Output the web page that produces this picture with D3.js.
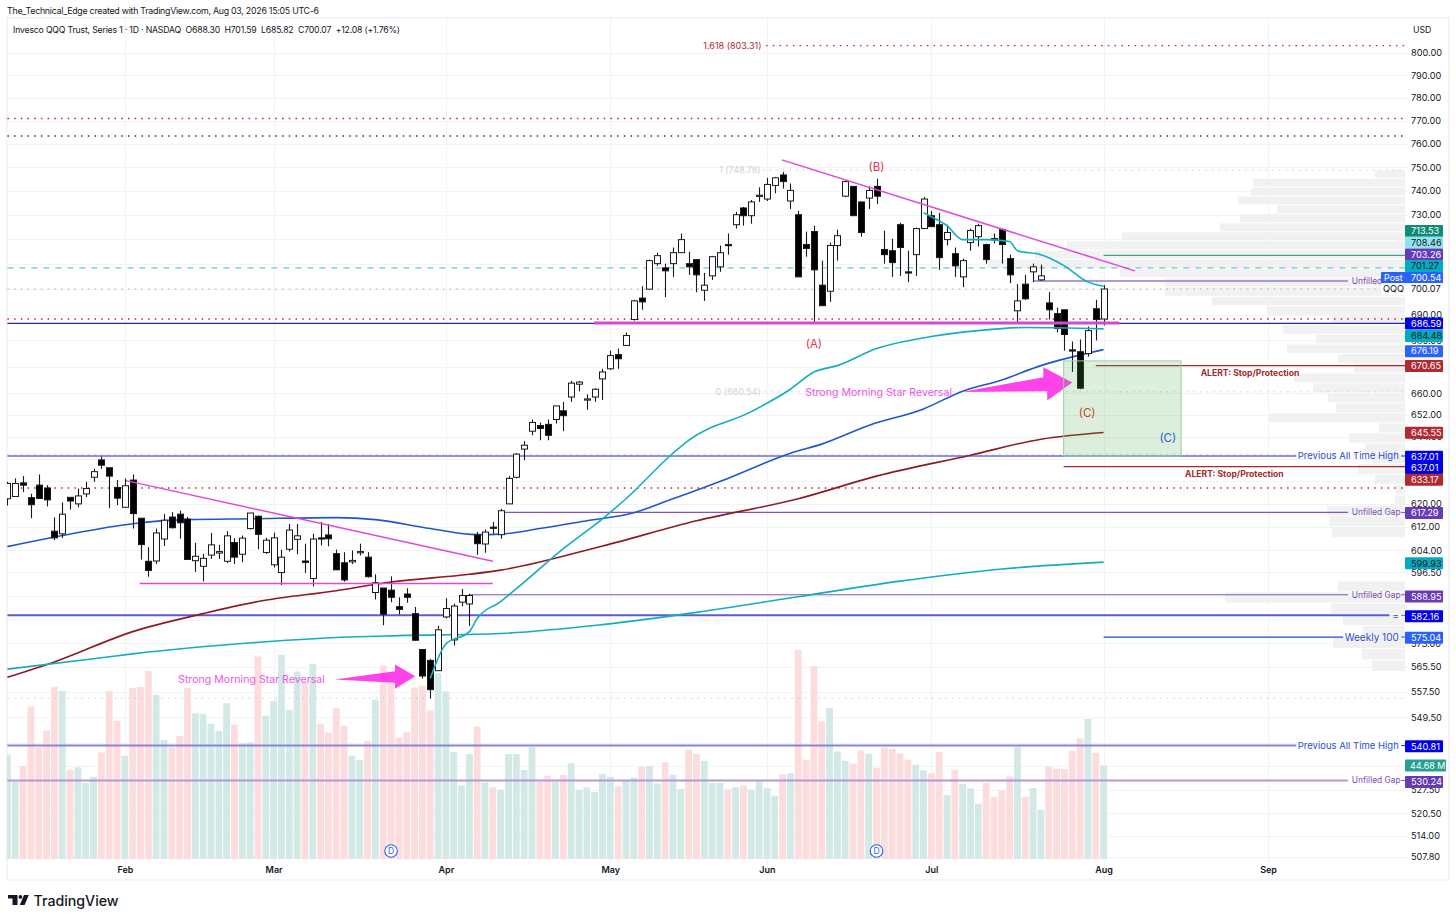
<!DOCTYPE html>
<html>
<head>
<meta charset="utf-8">
<script src="https://cdn.jsdelivr.net/npm/d3@7"></script>
<style>
    html, body { margin: 0; padding: 0; background: #fff; }
    svg { display: block; font-family: Inter, "Liberation Sans", sans-serif; }
    svg text { fill: #131722; }
</style>
</head>
<body>
<svg id="chart" width="1456" height="921"></svg>
<script>
// daily candles
const candleOpen = [
    621.8,622.6,627.4,622.2,626.6,625.6,610.5,609.6,622.3,620.0,
    623.5,629.4,635.6,632.8,625.8,618.8,628.4,615.0,600.2,600.3,
    607.8,615.4,616.4,614.7,600.4,598.5,602.3,603.0,600.2,606.6,
    602.6,611.4,615.7,603.2,599.0,596.4,604.3,607.7,600.3,594.4,
    608.2,609.2,602.8,599.7,600.0,603.3,601.6,589.7,591.2,590.5,
    585.0,589.2,582.7,571.0,567.5,564.2,581.6,574.1,586.5,585.9,
    609.2,606.1,611.9,609.3,620.0,629.4,639.5,646.0,648.1,648.5,
    650.3,653.5,658.6,663.4,657.8,658.6,665.4,669.2,674.6,678.1,
    688.1,696.5,700.0,710.2,708.5,710.2,714.6,710.2,711.8,699.6,
    705.3,708.9,717.9,726.0,732.9,729.7,737.8,736.6,742.3,746.7,
    735.8,730.1,717.9,723.2,701.6,699.2,717.5,737.8,741.9,735.4,
    737.0,741.9,715.9,715.4,726.0,706.9,713.8,724.4,729.7,726.0,
    719.9,714.2,704.9,718.7,721.1,717.9,720.3,724.0,712.2,691.5,
    702.0,706.9,703.7,694.6,690.4,691.9,676.4,675.7,675.0,692.3,688.30];
const candleHigh = [
    627.8,629.0,629.8,623.6,630.4,626.6,615.3,620.5,622.3,625.4,
    627.8,632.4,636.8,632.8,628.4,629.0,630.4,615.0,605.0,611.4,
    616.5,617.1,617.7,615.4,606.5,602.7,609.9,605.8,610.5,608.1,
    609.0,616.8,615.9,608.2,610.0,604.1,613.0,613.0,606.2,609.6,
    613.7,613.0,604.2,603.3,603.9,606.2,603.3,595.8,591.2,595.1,
    588.1,591.1,584.9,571.0,568.0,578.7,587.8,586.0,590.9,589.3,
    610.2,611.1,613.7,618.3,629.8,638.0,642.4,650.3,649.2,650.3,
    655.3,656.8,664.6,664.6,659.6,661.9,669.2,676.1,676.9,683.1,
    695.8,701.2,711.8,714.6,710.2,716.7,722.4,715.0,711.8,706.5,
    713.0,717.5,722.4,731.3,733.3,736.2,741.5,745.5,745.9,748.0,
    743.1,731.7,723.2,725.6,711.4,718.7,724.0,744.3,741.9,735.4,
    741.9,745.1,723.6,720.3,726.8,715.4,724.8,737.4,731.7,730.9,
    726.0,716.7,712.2,724.4,726.4,718.3,722.4,724.4,713.8,702.0,
    705.7,710.2,709.8,698.8,692.7,691.9,679.6,680.4,685.4,695.8,701.59];
const candleLow = [
    619.4,622.4,624.2,615.0,621.8,619.1,607.4,608.2,618.0,618.8,
    622.4,627.8,632.4,618.5,619.6,618.8,611.4,600.8,595.0,599.3,
    605.4,611.4,607.9,600.8,596.6,593.4,601.0,601.0,599.6,599.3,
    599.9,611.1,604.3,602.7,598.1,592.2,603.5,602.6,596.3,591.7,
    605.6,605.3,597.3,593.3,599.3,602.2,594.7,587.4,578.9,586.5,
    582.4,586.3,573.8,561.7,555.4,564.2,581.1,572.3,585.1,578.7,
    602.4,603.1,609.6,607.9,620.0,629.0,635.5,644.5,642.7,642.7,
    648.8,646.0,656.8,660.7,653.9,656.8,657.5,668.8,669.2,678.1,
    687.7,691.9,700.0,709.3,696.9,704.9,714.6,705.7,698.8,695.4,
    703.7,706.9,713.8,724.4,725.6,726.4,735.4,735.8,739.0,741.0,
    732.5,704.9,713.0,687.3,693.5,695.0,711.4,737.4,729.7,721.1,
    732.5,734.6,710.2,704.9,705.3,702.8,705.3,724.4,725.2,707.7,
    717.5,704.9,700.8,715.4,717.1,710.2,718.3,710.2,702.4,686.9,
    695.8,702.8,703.3,688.1,683.1,676.1,668.0,661.5,673.8,680.0,685.82];
const candleClose = [
    627.2,627.2,626.6,619.7,621.9,621.4,608.2,616.4,621.0,622.8,
    625.4,631.4,633.7,629.8,622.0,626.4,616.6,605.9,597.1,609.9,
    614.3,611.7,613.4,600.8,601.9,601.2,605.8,603.5,608.9,601.6,
    608.1,616.8,609.4,607.4,608.2,601.6,610.9,608.9,599.8,607.8,
    608.0,607.9,597.3,593.9,600.5,603.5,595.0,593.0,582.5,588.1,
    584.1,588.1,574.0,562.5,558.2,577.4,584.4,585.2,588.7,588.7,
    606.2,610.2,611.6,617.6,629.0,637.7,640.9,649.2,647.0,644.5,
    655.3,651.7,663.8,664.2,657.9,661.5,668.0,674.2,673.0,681.9,
    695.4,695.0,711.4,713.4,707.3,714.6,719.9,708.9,705.7,701.6,
    713.0,714.6,717.5,730.1,729.7,735.4,738.2,742.7,745.5,743.9,
    740.2,704.9,716.3,707.7,693.5,717.5,721.5,743.9,729.7,722.8,
    740.2,737.8,713.8,710.6,716.7,706.7,724.4,736.6,725.2,712.6,
    722.8,709.3,711.4,723.6,725.6,711.8,719.9,717.9,705.7,695.4,
    696.2,708.9,705.3,691.9,684.6,682.3,676.0,661.9,683.8,688.1,700.07];

// volume in millions
const volumes = [
    49.8,37.0,44.5,72.8,53.4,61.2,82.2,80.3,42.6,43.7,
    36.3,39.3,50.9,80.3,66.0,49.3,81.6,82.2,89.8,78.4,
    56.9,53.4,58.8,81.7,69.6,69.3,64.6,61.2,74.4,64.1,
    55.3,55.8,96.7,68.4,75.5,97.5,71.2,89.5,84.0,93.2,
    64.4,60.4,72.0,63.6,49.3,47.4,56.4,76.0,92.4,88.7,
    58.0,60.6,81.9,82.8,70.9,88.7,80.0,51.2,35.1,50.1,
    63.3,36.6,34.2,33.1,50.1,50.1,42.5,53.4,37.0,39.8,
    37.0,40.2,45.8,33.1,34.2,32.0,40.7,39.3,34.7,37.4,
    38.8,44.0,44.5,36.1,46.1,40.2,33.5,52.2,50.1,46.9,
    36.3,36.3,33.2,34.3,35.1,33.1,37.0,33.9,30.2,40.5,
    41.0,99.9,47.4,92.2,65.7,72.0,51.4,46.9,45.5,51.8,
    50.2,43.6,53.3,52.6,50.4,47.4,45.0,42.3,41.0,51.2,
    30.4,42.6,35.8,33.7,26.4,36.4,29.6,32.8,39.4,53.4,
    29.7,33.9,23.5,44.2,43.1,42.9,51.7,57.6,66.9,50.7,44.68];

// moving averages sampled at a few bars
const ma50Bars = [0,7,16,23,31,42,47,54,60,63,68,74,80,85,92,100,104,110,117,122,127,132,140];
const ma50Vals = [605.2,609,613.1,614.5,614.8,615.2,614.5,611.4,609.3,609.5,611.4,614.1,616.9,621.8,629,638,641.3,648.1,654.2,660.8,665,670.4,676.5];
const ma100Bars = [0,6,16,25,32,42,49,59,63,76,88,101,111,123,132,140];
const ma100Vals = [562.1,567,576.8,582.7,586.7,590.3,593.2,595.8,597.2,605.4,614.1,621.8,629.8,637.3,643.1,645.55];
const ma200Bars = [0,11,16,33,42,50,63,76,88,101,114,127,140];
const ma200Vals = [564.7,568,569.6,573.5,574.9,575.5,576.2,579.1,583.1,588.3,593.5,597.6,599.93];
const ma20Bars = [54,56,59,60,63,66,71,76,79,85,87,95,100,103,106,111,118,124,130,140];
const ma20Vals = [561.7,572.8,576.8,581.1,586.7,593.2,604.5,614.8,621.8,638,642.7,653.2,661.5,668,670.4,676.9,681.5,683.8,685,684.48];
const ma10Bars = [117,118,120,122,125,128,129,132,135,138,140];
const ma10Vals = [730.9,729.3,725.6,719.9,719.9,719.1,715.4,713.8,709.3,702.8,701.2];

// axis ticks, the hidden ones sit fully behind a tag and only keep their grid line
const priceTicks = [800,790,780,770,760,750,740,730,720,710,700,690,680,670,660,652,644,636,628,620,612,604,596.5,588.5,580.5,573,565.5,557.5,549.5,541.5,534.5,527.5,520.5,514,507.8];
const hiddenTicks = [720,710,700,670,636,628,588.5,580.5,541.5,534.5];
const monthBars = [15,34,56,77,97,118,140,161];
const monthLabels = ["Feb","Mar","Apr","May","Jun","Jul","Aug","Sep"];

// visible range profile, top row first, one row every vpStep dollars
const vpTop = 748.8;
const vpStep = 3.7;
const vpRows = [30,152,154,167,128,165,185,283,338,370,418,285,240,240,193,138,73,122,89,118,67,51,111,92,77,69,136,26,56,40,32,47,30,9,10,78,76,73,0,0,0,0,67,180,74,62,42,72,43,33];

// price tags on the axis: text and the price they sit at once stacked
const tagTexts = ["713.53","708.46","703.26","701.27","700.54","686.59","684.48","676.19","670.65","645.55","637.01","637.01","633.17","617.29","599.93","588.95","582.16","575.04","540.81","530.24"];
const tagPrices = [723.4,718.7,713.9,709.2,704.4,686.6,681.7,675.9,670.3,645.4,636.7,632.7,628.5,616.8,599.5,588.4,581.8,574.8,540.6,529.8];
const tagKinds = ["teal","pale","purple","cyan","blue","navy","cyan","blue","red","red","navy","navy","red","purple","cyan","purple","navy","blue","navy","purple"];

// drawn levels
const extLevels = [803.31,748.78,660.54];
const extStarts = [96.9,96.5,96.7];
const redDotted = [770.9,688.3,625.6];
const greenDotted = [763.3];
const fibFull = [637.6,555.5];
const emaDashed = 708.46;
const tealLevel = 713.53;
const lastClose = 700.07;
const athLevels = [637.01,540.81];
const blueLevel = 686.59;
const equalLevel = 582.16;
const weeklyLevel = 575.04;
const gapLevels = [703.26,617.0,588.95,530.24];
const gapStarts = [131,63,59,0];
const alertLevels = [670.4,633.17];
const alertStarts = [139,134.9];
const alertTextBars = [152.4,150.4];
const alertTextPrices = [667.6,630.6];

// trend lines
const trendBars = [[15.15,62],[16.9,62],[98.9,144]];
const trendPrices = [[628.2,600.2],[592.7,592.7],[753.1,707.3]];
const neckBars = [74.9,142];
const neckPrice = 686.8;

// arrows
const arrow1Bars = [41.8,49.5,49.5,52.1,49.5,49.5];
const arrow1Prices = [561.4,564,566.2,562.4,558.5,560.4];
const arrow2Bars = [121.9,132.3,132.3,136,132.8,132.8];
const arrow2Prices = [660.5,666,669.8,664,657.3,660.8];

const boxBars = [134.9,149.9];
const boxPrices = [672.2,637];
const dividendBars = [49,111];
const lastVolume = 44.68;

const margin = {left: 7, right: 1408, top: 18, bottom: 880};
const volBase = 859;

const svg = d3.select("#chart");
const x = d3.scaleLinear().domain([0, 140]).range([7.4, 1103.6]);
const y = d3.scaleLog().domain([507.8, 800]).range([857, 53]);
const yVol = d3.scaleLinear().domain([0, 100]).range([volBase, volBase - 209.4]);

svg.append("defs").append("clipPath").attr("id", "pane")
    .append("rect").attr("x", margin.left).attr("y", margin.top)
    .attr("width", margin.right - margin.left).attr("height", margin.bottom - margin.top);

// frame and grid
const grid = svg.append("g").attr("stroke", "#f2f3f5");
grid.selectAll(".h").data(priceTicks).enter().append("line").attr("class", "h")
    .attr("x1", margin.left).attr("x2", margin.right)
    .attr("y1", d => Math.round(y(d)) + 0.5).attr("y2", d => Math.round(y(d)) + 0.5);
grid.selectAll(".v").data(monthBars).enter().append("line").attr("class", "v")
    .attr("y1", margin.top).attr("y2", margin.bottom)
    .attr("x1", d => Math.round(x(d)) + 0.5).attr("x2", d => Math.round(x(d)) + 0.5);
svg.append("rect").attr("x", margin.left).attr("y", margin.top)
    .attr("width", 1449 - margin.left).attr("height", margin.bottom - margin.top)
    .attr("fill", "none").attr("stroke", "#e8eaee");

const plot = svg.append("g").attr("clip-path", "url(#pane)");

// volume profile
const vpRight = 1405;
plot.append("g").selectAll("rect").data(vpRows).enter().append("rect")
    .attr("x", d => vpRight - d).attr("width", d => d)
    .attr("y", (d, i) => y(vpTop - i * vpStep))
    .attr("height", (d, i) => y(vpTop - (i + 1) * vpStep) - y(vpTop - i * vpStep) - 1)
    .attr("fill", "#efefef").attr("fill-opacity", 0.85);

// volume
const isUp = i => candleClose[i] >= candleOpen[i];
plot.append("g").selectAll("rect").data(volumes).enter().append("rect")
    .attr("x", (d, i) => x(i) - 3.4).attr("width", 6.8)
    .attr("y", d => yVol(d)).attr("height", d => volBase - yVol(d))
    .attr("fill", (d, i) => isUp(i) ? "#d2e9e6" : "#fcdcdc");

// horizontal helper, bars may run past the last candle
function hline(price, from, to, color, w, dash) {
    plot.append("line")
        .attr("x1", x(from)).attr("x2", x(to))
        .attr("y1", y(price)).attr("y2", y(price))
        .attr("stroke", color).attr("stroke-width", w)
        .attr("stroke-dasharray", dash || null);
}
const lastBar = 178.6, dots = "1.5 5.2";

extLevels.forEach((d, i) => hline(d, extStarts[i], lastBar, i === 0 ? "#b22833" : "#c9ccd1", i === 0 ? 1.3 : 1, dots));
redDotted.forEach(d => hline(d, 0, lastBar, "#b22833", 1.4, dots));
greenDotted.forEach(d => hline(d, 0, lastBar, "#24453c", 1.4, dots));
fibFull.forEach(d => hline(d, 0, lastBar, "#c9ccd1", 1, dots));
hline(tealLevel, 140, lastBar, "#1e8f7c", 1);
hline(emaDashed, 0, lastBar, "#62cfdc", 1.3, "6 6");
hline(lastClose, 0, lastBar, "#8fb0f0", 1, dots);
hline(blueLevel, 0, lastBar, "#2323d8", 1.2);
hline(equalLevel, 0, 176.5, "#5c5cd0", 2);
hline(equalLevel, 178, lastBar, "#5c5cd0", 1);

athLevels.forEach((d, i) => {
    hline(d, 0, 164.6, i === 0 ? "#2323d8" : "#8585dc", i === 0 ? 1.2 : 2);
    hline(d, 178, lastBar, "#2323d8", 1);
});
gapLevels.forEach((d, i) => {
    const thick = i === 0 || i === 3;
    hline(d, gapStarts[i], 171.2, thick ? "#b397dc" : "#8155c0", thick ? 2 : 1.2);
    hline(d, 178, lastBar, "#8155c0", 1);
});
hline(weeklyLevel, 140, 170.6, "#1a4fc4", 1.2);
hline(weeklyLevel, 178, lastBar, "#1a4fc4", 1);
alertLevels.forEach((d, i) => hline(d, alertStarts[i], lastBar, "#a32a2a", 1.2));

// moving averages
const maLine = d3.line().curve(d3.curveMonotoneX).x(d => x(d[0])).y(d => y(d[1]));
function drawMa(bars, vals, color, w) {
    plot.append("path").datum(bars.map((b, i) => [b, vals[i]]))
        .attr("fill", "none").attr("stroke", color).attr("stroke-width", w)
        .attr("d", maLine);
}
drawMa(ma100Bars, ma100Vals, "#8e1a24", 1.6);
drawMa(ma200Bars, ma200Vals, "#12aebf", 1.6);
drawMa(ma50Bars, ma50Vals, "#1f55d0", 1.6);

// candles
const candles = plot.append("g").selectAll("g").data(candleOpen).enter().append("g");
candles.append("line")
    .attr("x1", (d, i) => Math.round(x(i)) + 0.5).attr("x2", (d, i) => Math.round(x(i)) + 0.5)
    .attr("y1", (d, i) => y(candleHigh[i])).attr("y2", (d, i) => y(candleLow[i]))
    .attr("stroke", "#1a1a1a").attr("stroke-width", 1.1);
candles.append("rect")
    .attr("x", (d, i) => Math.round(x(i)) - 2.5).attr("width", 6)
    .attr("y", (d, i) => y(Math.max(candleOpen[i], candleClose[i])))
    .attr("height", (d, i) => Math.max(1.2, Math.abs(y(candleOpen[i]) - y(candleClose[i]))))
    .attr("fill", (d, i) => isUp(i) ? "#fff" : "#000")
    .attr("stroke", "#1a1a1a").attr("stroke-width", 1);

drawMa(ma20Bars, ma20Vals, "#12aebf", 1.6);
drawMa(ma10Bars, ma10Vals, "#12aebf", 1.6);

// trend lines
const magenta = "#e346dc";
trendBars.forEach((b, i) => {
    plot.append("line").attr("x1", x(b[0])).attr("x2", x(b[1]))
        .attr("y1", y(trendPrices[i][0])).attr("y2", y(trendPrices[i][1]))
        .attr("stroke", magenta).attr("stroke-width", 1.5);
});
plot.append("line").attr("x1", x(neckBars[0])).attr("x2", x(neckBars[1]))
    .attr("y1", y(neckPrice)).attr("y2", y(neckPrice))
    .attr("stroke", "#d946d2").attr("stroke-width", 3);

// arrows
[[arrow1Bars, arrow1Prices], [arrow2Bars, arrow2Prices]].forEach(a => {
    plot.append("polygon")
        .attr("points", a[0].map((b, i) => x(b) + "," + y(a[1][i])).join(" "))
        .attr("fill", "#ff43ea");
});

// long position box
plot.append("rect")
    .attr("x", x(boxBars[0])).attr("width", x(boxBars[1]) - x(boxBars[0]))
    .attr("y", y(boxPrices[0])).attr("height", y(boxPrices[1]) - y(boxPrices[0]))
    .attr("fill", "#4caf50").attr("fill-opacity", 0.2)
    .attr("stroke", "#9ed09f").attr("stroke-width", 1);

// annotations
function note(txt, bar, price, color, size, anchor, weight) {
    svg.append("text").attr("x", x(bar)).attr("y", y(price))
        .attr("dy", "0.35em").attr("text-anchor", anchor || "start")
        .attr("font-size", size).attr("font-weight", weight || 400)
        .style("fill", color).text(txt);
}
note("1.618 (803.31)", 96.3, 803.31, "#b22833", 9, "end");
note("1 (748.78)", 96.2, 748.78, "#cfd2d6", 9, "end");
note("0 (660.54)", 96.2, 660.54, "#cfd2d6", 9, "end");
note("(A)", 103, 678.6, "#e0354a", 11.5, "middle");
note("(B)", 111, 750, "#e0354a", 11.5, "middle");
note("(C)", 137.9, 652.7, "#c0492a", 11.5, "middle");
note("(C)", 148.2, 643.5, "#2a5bd7", 11.5, "middle");
note("Strong Morning Star Reversal", 21.8, 561.4, "#ee55e6", 10.6);
note("Strong Morning Star Reversal", 101.9, 660.2, "#ee55e6", 10.6);
alertTextBars.forEach((b, i) => note("ALERT: Stop/Protection", b, alertTextPrices[i], "#a32a2a", 8.6, "start", 700));
gapLevels.forEach((p, i) => note(i === 0 ? "Unfilled" : "Unfilled Gap", 171.7, p, "#7a52b8", 8.4));
athLevels.forEach(p => note("Previous All Time High", 177.7, p, "#2a4fd0", 9.5, "end"));
note("Weekly 100", 177.7, weeklyLevel, "#2a4fd0", 10, "end");
note("=", 177.7, equalLevel, "#2a4fd0", 10, "end");

// dividend markers
const marks = svg.append("g").selectAll("g").data(dividendBars).enter().append("g")
    .attr("transform", d => "translate(" + x(d) + ",851)");
marks.append("circle").attr("r", 6.3).attr("fill", "#fff").attr("stroke", "#2962ff").attr("stroke-width", 1.1);
marks.append("text").attr("text-anchor", "middle").attr("dy", "0.35em").attr("font-size", 8.5)
    .style("fill", "#2962ff").text("D");

// axes
const yAxis = svg.append("g").attr("transform", "translate(" + margin.right + ",0)")
    .call(d3.axisRight(y).tickValues(priceTicks.filter(d => !hiddenTicks.includes(d))).tickFormat(d3.format(".2f")).tickSize(0).tickPadding(3));
yAxis.select(".domain").remove();
yAxis.selectAll("text").attr("font-size", 9.2).attr("font-family", "Inter");

const xAxis = svg.append("g").attr("transform", "translate(0,866)")
    .call(d3.axisBottom(x).tickValues(monthBars).tickFormat((d, i) => monthLabels[i]).tickSize(0).tickPadding(1));
xAxis.select(".domain").remove();
xAxis.selectAll("text").attr("font-size", 9).attr("font-weight", 600).attr("font-family", "Inter");

// axis tags
const tagFill = {teal: "#0f8a74", pale: "#8ee3ef", purple: "#673ab7", cyan: "#00acc1", blue: "#2962ff", navy: "#0000e6", red: "#b22833"};
const tagInk = {pale: "#1a1a1a", cyan: "#1a1a1a"};
const tags = svg.append("g").selectAll("g").data(tagTexts).enter().append("g")
    .attr("transform", (d, i) => "translate(1405," + y(tagPrices[i]) + ")");
tags.append("rect").attr("y", -6).attr("width", 38).attr("height", 12).attr("rx", 1)
    .attr("fill", (d, i) => tagFill[tagKinds[i]]);
tags.append("text").attr("x", 6).attr("dy", "0.36em").attr("font-size", 9.2)
    .style("fill", (d, i) => tagInk[tagKinds[i]] || "#fff").text(d => d);

// volume tag, post label and last close
const volTag = svg.append("g").attr("transform", "translate(1405," + yVol(lastVolume) + ")");
volTag.append("rect").attr("y", -6).attr("width", 41).attr("height", 12).attr("rx", 1).attr("fill", "#26a08f");
volTag.append("text").attr("x", 5).attr("dy", "0.36em").attr("font-size", 9).style("fill", "#fff").text("44.68 M");

const postTag = svg.append("g").attr("transform", "translate(1381," + y(tagPrices[4]) + ")");
postTag.append("rect").attr("y", -6).attr("width", 25).attr("height", 12).attr("rx", 1).attr("fill", "#2962ff");
postTag.append("text").attr("x", 3).attr("dy", "0.36em").attr("font-size", 9).style("fill", "#fff").text("Post");

const lastTag = svg.append("g").attr("transform", "translate(1381," + y(lastClose) + ")");
lastTag.append("rect").attr("y", -6).attr("width", 62).attr("height", 12).attr("fill", "#fff");
lastTag.append("text").attr("x", 2).attr("dy", "0.36em").attr("font-size", 9.2).text("QQQ");
lastTag.append("text").attr("x", 30).attr("dy", "0.36em").attr("font-size", 9.2).text("700.07");

// header
svg.append("text").attr("x", 7).attr("y", 14).attr("font-size", 8.8).attr("letter-spacing", -0.25)
    .text("The_Technical_Edge created with TradingView.com, Aug 03, 2026 15:05 UTC-6");
svg.append("text").attr("x", 13).attr("y", 33).attr("font-size", 8.7).attr("letter-spacing", -0.18).style("white-space", "pre")
    .text("Invesco QQQ Trust, Series 1 · 1D · NASDAQ  O688.30  H701.59  L685.82  C700.07  +12.08 (+1.76%)");
svg.append("text").attr("x", 1413).attr("y", 33).attr("font-size", 8.7).text("USD");

// logo
const logo = svg.append("g").attr("fill", "#131722");
logo.append("path").attr("d", "M8,895H17.5V905H12.5V898.6H8Z");
logo.append("circle").attr("cx", 20.4).attr("cy", 896.9).attr("r", 1.9);
logo.append("path").attr("d", "M24,895H28.8L24.6,905H19.8Z");
svg.append("text").attr("x", 33.5).attr("y", 905.5).attr("font-size", 14.2).attr("font-weight", 500).text("TradingView");
</script>
</body>
</html>
